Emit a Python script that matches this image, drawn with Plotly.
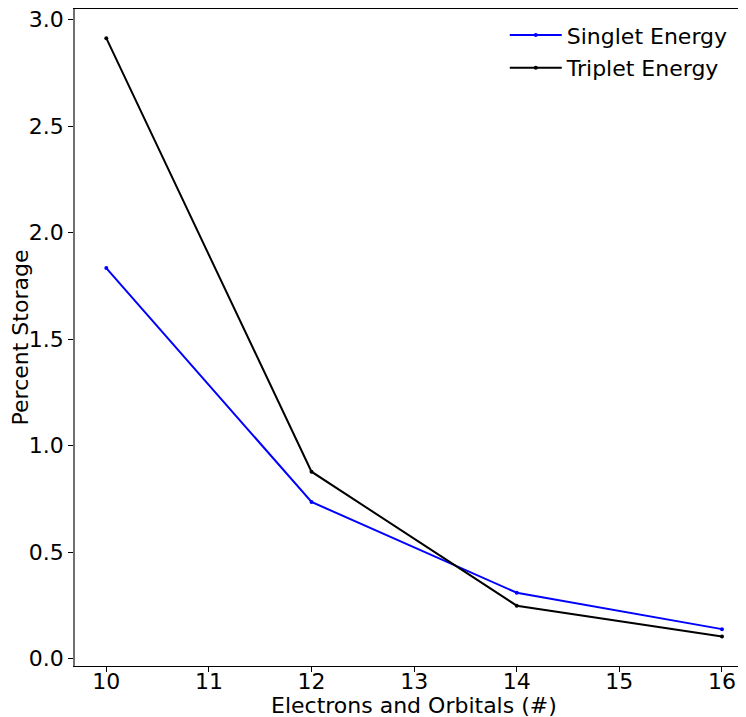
import plotly.graph_objects as go

electrons = [10, 12, 14, 16]
singlet_energy = [1.834, 0.736, 0.310, 0.139]
triplet_energy = [2.913, 0.878, 0.249, 0.105]
x_ticks = [10, 11, 12, 13, 14, 15, 16]
y_ticks = [0.0, 0.5, 1.0, 1.5, 2.0, 2.5, 3.0]

FONT = "DejaVu Sans"
FS = 22

fig = go.Figure()
fig.add_trace(go.Scatter(
    x=electrons, y=singlet_energy, mode="lines+markers", name="Singlet Energy",
    line=dict(color="blue", width=2), marker=dict(size=4, color="blue"),
    legendgroup="s",
))
fig.add_trace(go.Scatter(
    x=electrons, y=triplet_energy, mode="lines+markers", name="Triplet Energy",
    line=dict(color="black", width=2), marker=dict(size=4, color="black"),
    legendgroup="t",
))

# page body has an 8px margin, so the figure is drawn 8px right and down
fig.update_layout(
    width=738, height=709,
    margin=dict(l=67, r=0, t=1, b=51, pad=0),
    plot_bgcolor="white", paper_bgcolor="white",
    font=dict(family=FONT, size=FS, color="black"),
    legend=dict(x=0.6405, y=0.992, xanchor="left", yanchor="top",
                bgcolor="rgba(0,0,0,0)", font=dict(size=FS, family=FONT),
                tracegroupgap=1, itemwidth=52),
    xaxis=dict(
        range=[9.695, 16.234], tickvals=x_ticks,
        ticktext=[str(v) for v in x_ticks], automargin=False,
        showgrid=False, zeroline=False, showline=True, linecolor="black", linewidth=1,
        mirror=True, ticks="outside", ticklen=5, tickcolor="black",
        ticklabelstandoff=-9, ticklabeloverflow="allow",
    ),
    yaxis=dict(
        range=[-0.034, 3.050], tickvals=y_ticks,
        ticktext=[f"{v:.1f}" for v in y_ticks], automargin=False,
        showgrid=False, zeroline=False, showline=True, linecolor="#707070", linewidth=1.5,
        mirror=False, ticks="outside", ticklen=5, tickcolor="black",
        ticklabeloverflow="allow",
        title=dict(text="Percent Storage", font=dict(size=FS), standoff=2),
    ),
    annotations=[dict(
        text="Electrons and Orbitals (#)", xref="paper", yref="paper",
        x=0.5047, y=0, xanchor="center", yanchor="middle", yshift=-39,
        showarrow=False, font=dict(size=FS, family=FONT),
    )],
)

fig.write_html("out.html")
